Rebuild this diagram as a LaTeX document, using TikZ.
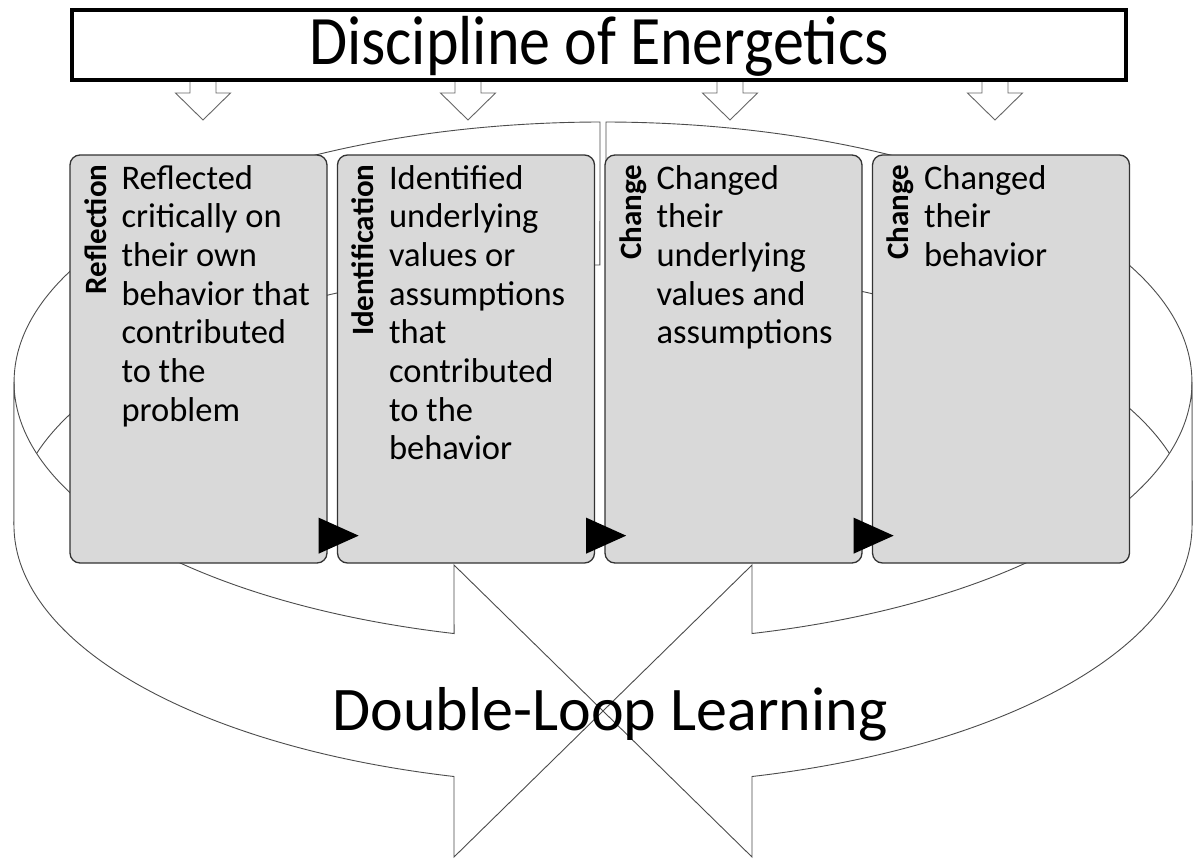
\documentclass[tikz,border=0pt]{standalone}
\usepackage{fontspec}
\setmainfont{Carlito}
\tikzset{
  ribbon/.style={fill=white, draw=black!70, line width=0.9pt},
  ringarc/.style={x radius=589, y radius=260},
  hollowarrow/.style={fill=white, draw=black!60, line width=0.9pt},
  titlebox/.style={draw=black, line width=3.5pt, fill=white, minimum width=1054pt, minimum height=70pt, inner sep=0pt},
  titletext/.style={anchor=base, inner sep=0pt, font=\fontsize{62}{62}\selectfont},
  stepbox/.style={draw=black!80, fill=black!15, rounded corners=10pt, line width=1.3pt, minimum width=257pt, minimum height=408pt, inner sep=0pt},
  steplabel/.style={rotate=90, anchor=base east, inner sep=0pt, font=\bfseries\fontsize{31}{31}\selectfont},
  steptext/.style={anchor=north west, align=left, inner sep=0pt, font=\fontsize{34.5}{38.7}\selectfont},
  looptext/.style={anchor=base, inner sep=0pt, font=\fontsize{62}{62}\selectfont},
}

\begin{document}
\begin{tikzpicture}[x=1pt, y=-1pt]
    \useasboundingbox[fill=white] (0,0) rectangle (1194,859);

    % back of the loops
    \draw[ribbon] (600,122) arc[ringarc, start angle=269.7, end angle=180]
        -- (14,525) arc[ringarc, start angle=180, end angle=269.7] -- cycle;
    \draw[ribbon] (606,122) arc[ringarc, start angle=270.3, end angle=360]
        -- (1192,525) arc[ringarc, start angle=0, end angle=-89.7] -- cycle;

    % front of the loops
    \draw[ribbon] (14,382) arc[ringarc, start angle=180, end angle=104.65]
        -- (454,565) -- (603,711) -- (454,857) -- (454,776.5)
        arc[ringarc, start angle=104.65, end angle=180] -- cycle;
    \draw[ribbon] (1192,382) arc[ringarc, start angle=0, end angle=75.35]
        -- (752,565) -- (603,711) -- (752,857) -- (752,776.5)
        arc[ringarc, start angle=75.35, end angle=0] -- cycle;

    \foreach \ax in {203,468,730,995}
        \draw[hollowarrow] (\ax-13,80) -- (\ax-13,93) -- (\ax-27.5,93) -- (\ax,120)
            -- (\ax+27.5,93) -- (\ax+13,93) -- (\ax+13,80) -- cycle;

    \node[titlebox] (title) at (599,45) {};
    \node[titletext] (titlename) at (599,65) {\scalebox{1}[1.12]{Discipline of Energetics}};

    \node[stepbox] (b1) at (198.5,359) {};
    \node[stepbox] (b2) at (466,359) {};
    \node[stepbox] (b3) at (733.5,359) {};
    \node[stepbox] (b4) at (1001,359) {};

    \foreach \b in {b1,b2,b3}
        \fill ([xshift=-9pt,yshift=10pt]\b.south east) -- ++(40pt,18pt) -- ++(-40pt,18pt) -- cycle;

    \node[steplabel] (l1) at ([xshift=37pt,yshift=-10pt]b1.north west) {Reflection};
    \node[steplabel] (l2) at ([xshift=37pt,yshift=-10pt]b2.north west) {Identification};
    \node[steplabel] (l3) at ([xshift=37pt,yshift=-10pt]b3.north west) {Change};
    \node[steplabel] (l4) at ([xshift=37pt,yshift=-10pt]b4.north west) {Change};

    \node[steptext] (t1) at ([xshift=52pt,yshift=-10.5pt]b1.north west)
        {Reflected\\critically on\\their own\\behavior that\\contributed\\to the\\problem};
    \node[steptext] (t2) at ([xshift=52pt,yshift=-10.5pt]b2.north west)
        {Identified\\underlying\\values or\\assumptions\\that\\contributed\\to the\\behavior};
    \node[steptext] (t3) at ([xshift=52pt,yshift=-10.5pt]b3.north west)
        {Changed\\their\\underlying\\values and\\assumptions};
    \node[steptext] (t4) at ([xshift=52pt,yshift=-10.5pt]b4.north west)
        {Changed\\their\\behavior};

    \node[looptext] (loop) at (610,730) {Double-Loop Learning};
\end{tikzpicture}
\end{document}
